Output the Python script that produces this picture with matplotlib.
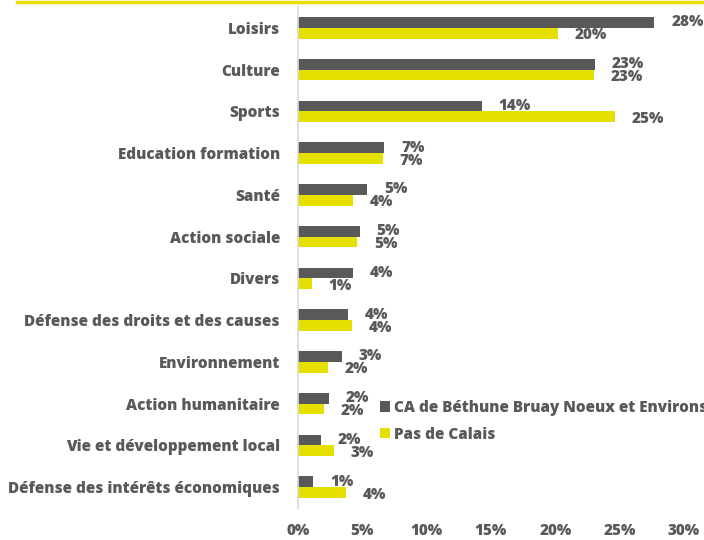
import matplotlib.pyplot as plt
import numpy as np
from matplotlib.lines import Line2D

# Categories (top to bottom) and shares in %
categories = ["Loisirs", "Culture", "Sports", "Education formation", "Santé",
              "Action sociale", "Divers", "Défense des droits et des causes",
              "Environnement", "Action humanitaire", "Vie et développement local",
              "Défense des intérêts économiques"]
ca_bethune = [27.7, 23.1, 14.3, 6.7, 5.4, 4.8, 4.3, 3.9, 3.4, 2.4, 1.8, 1.2]
pas_calais = [20.2, 23.0, 24.6, 6.6, 4.3, 4.6, 1.1, 4.2, 2.3, 2.0, 2.8, 3.7]
xticks = [0, 5, 10, 15, 20, 25, 30]

dark = "#595959"
yellow = "#E5E000"
txt = "#595959"
fs = 11

plt.rcParams['font.family'] = ['Open Sans', 'DejaVu Sans']
plt.rcParams['font.weight'] = 'heavy'

fig = plt.figure(figsize=(7.04, 5.40), dpi=100)
ax = fig.add_axes([0.4233, 0.0593, 0.5483, 0.9277])

y = np.arange(len(categories))
h = 0.26
ax.barh(y - h/2, ca_bethune, height=h, color=dark, label="CA de Béthune Bruay Noeux et Environs")
ax.barh(y + h/2, pas_calais, height=h, color=yellow, label="Pas de Calais")

for yy, v in zip(y, ca_bethune):
    ax.text(v + 1.3, yy - h/2, f"{round(v):.0f}%", va='center', ha='left',
            color=txt, fontsize=fs, fontweight='heavy')
for yy, v in zip(y, pas_calais):
    ax.text(v + 1.3, yy + h/2 + 0.05, f"{round(v):.0f}%", va='center', ha='left',
            color=txt, fontsize=fs, fontweight='heavy')

ax.set_ylim(len(categories) - 0.5, -0.5)
ax.set_xlim(0, 30)
ax.set_yticks(y)
ax.set_yticklabels(categories)
ax.set_xticks(xticks)
ax.set_xticklabels([f"{t}%" for t in xticks])
ax.tick_params(axis='y', length=0, pad=13, labelsize=fs, labelcolor=txt)
ax.tick_params(axis='x', length=0, pad=11, labelsize=fs, labelcolor=txt)

for s in ['top', 'right', 'bottom']:
    ax.spines[s].set_visible(False)
ax.spines['left'].set_color("#D9D9D9")
ax.spines['left'].set_linewidth(1.2)

leg = ax.legend(loc='upper left', bbox_to_anchor=(0.196, 0.228), frameon=False,
                handlelength=0.65, handleheight=0.65, handletextpad=0.3,
                labelspacing=0.7, fontsize=fs, borderaxespad=0)
for t in leg.get_texts():
    t.set_color(txt)

# yellow rule at the top
fig.add_artist(Line2D([0.024, 1.0], [0.996, 0.996], color=yellow, linewidth=2.5,
                      transform=fig.transFigure))

fig.savefig("out.png", dpi=100)
